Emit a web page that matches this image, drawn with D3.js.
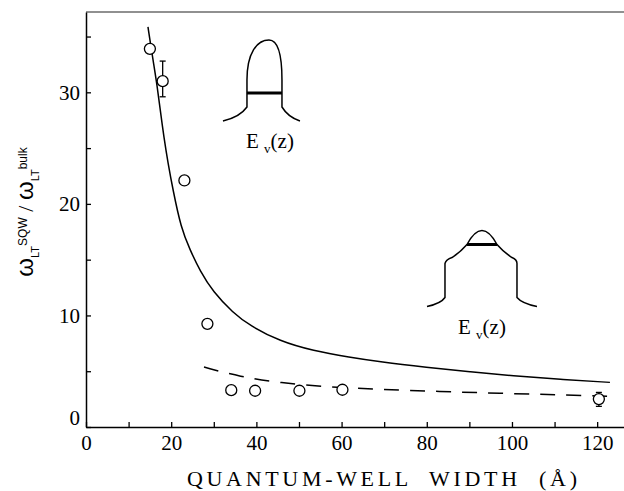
<!DOCTYPE html>
<html>
<head>
<meta charset="utf-8">
<script src="https://cdn.jsdelivr.net/npm/d3@7"></script>
<style>
  body { margin: 0; background: #fff; }
  svg { display: block; }
</style>
</head>
<body>
<div id="chart"></div>
<script>
// measured points (open circles)
const wellWidth = [15, 18, 23.1, 28.5, 34.1, 39.7, 50.1, 60.2, 120.4]
const ratio = [33.9, 31.0, 22.1, 9.25, 3.3, 3.25, 3.25, 3.34, 2.5]

// error bars on some of the points
const errIndex = [1, 8]
const errLow = [29.6, 1.85]
const errHigh = [32.8, 3.1]

// solid theory curve
const theoryWidth = [14.55, 15.26, 15.96, 16.67, 17.37, 18.31, 19.25, 20.42, 22.3, 24.41, 26.76, 29.81, 34.51, 38.5, 45.54, 53.29, 61.97, 69.01, 80.05, 90.14, 100.23, 111.27, 123.0]
const theoryRatio = [35.86, 34.07, 32.37, 30.66, 28.6, 25.9, 23.67, 21.25, 17.85, 15.88, 14.0, 12.12, 10.24, 9.07, 7.68, 6.83, 6.25, 5.84, 5.35, 4.95, 4.59, 4.27, 4.0]

// dashed curve
const dashWidth = [27.7, 36.15, 45.54, 57.28, 69.01, 83.1, 97.18, 111.27, 124.65]
const dashRatio = [5.37, 4.5, 3.96, 3.56, 3.38, 3.18, 3.02, 2.89, 2.74]

const xTicks = [0, 10, 20, 30, 40, 50, 60, 70, 80, 90, 100, 110, 120]
const xTickLabels = ["0", "", "20", "", "40", "", "60", "", "80", "", "100", "", "120"]
const yTicks = [0, 5, 10, 15, 20, 25, 30, 35]
const yTickLabels = ["0", "", "10", "", "20", "", "30", ""]

// inset sketches of E_v(z), in local pixels around an anchor placed in data space
const insetAnchorWidth = [41.78, 92.96]
const insetAnchorRatio = [27.43, 10.8]

const width = 624, height = 491
const margin = {top: 12, right: 0, bottom: 64, left: 86}
const serif = '"Liberation Serif"'

const x = d3.scaleLinear().domain([0, 126.3]).range([margin.left, width - margin.right])
const y = d3.scaleLinear().domain([0, 37.2]).range([height - margin.bottom, margin.top])

const svg = d3.select("#chart").append("svg")
  .attr("width", width)
  .attr("height", height)
  .attr("viewBox", [0, 0, width, height])

// frame top line
svg.append("line")
  .attr("x1", x.range()[0]).attr("x2", x.range()[1])
  .attr("y1", y.range()[1]).attr("y2", y.range()[1])
  .attr("stroke", "#222").attr("stroke-width", 1.2)

const xAxis = svg.append("g")
  .attr("transform", `translate(0,${y(0)})`)
  .call(d3.axisBottom(x).tickValues(xTicks)
    .tickFormat((d, i) => xTickLabels[i])
    .tickSizeInner(-5).tickSizeOuter(0).tickPadding(8))
xAxis.select(".domain").attr("stroke-width", 1.5)
xAxis.selectAll(".tick line").attr("stroke-width", 1.3)
xAxis.selectAll("text").style("font-family", serif).style("font-size", "21px").attr("fill", "#000")

const yAxis = svg.append("g")
  .attr("transform", `translate(${x(0)},0)`)
  .call(d3.axisLeft(y).tickValues(yTicks)
    .tickFormat((d, i) => yTickLabels[i])
    .tickSizeInner(-5).tickSizeOuter(0).tickPadding(6))
yAxis.select(".domain").attr("stroke-width", 1.5)
yAxis.selectAll(".tick line").attr("stroke-width", 1.3)
yAxis.selectAll("text").style("font-family", serif).style("font-size", "21px").attr("fill", "#000")
yAxis.selectAll(".tick").filter(d => d === 0).select("text").attr("dy", "-0.13em")

// curves
const theory = theoryWidth.map((w, i) => [w, theoryRatio[i]])
const dashed = dashWidth.map((w, i) => [w, dashRatio[i]])
const line = d3.line().x(d => x(d[0])).y(d => y(d[1])).curve(d3.curveBasis)

svg.append("path").datum(theory)
  .attr("d", line).attr("fill", "none")
  .attr("stroke", "#000").attr("stroke-width", 1.5)

svg.append("path").datum(dashed)
  .attr("d", line).attr("fill", "none")
  .attr("stroke", "#000").attr("stroke-width", 1.5)
  .attr("stroke-dasharray", "15,11")

// error bars
const errG = svg.append("g").attr("stroke", "#000").attr("stroke-width", 1.3)
errIndex.forEach((k, i) => {
  const cx = x(wellWidth[k])
  errG.append("line").attr("x1", cx).attr("x2", cx).attr("y1", y(errLow[i])).attr("y2", y(errHigh[i]))
  errG.append("line").attr("x1", cx - 3).attr("x2", cx + 3).attr("y1", y(errLow[i])).attr("y2", y(errLow[i]))
  errG.append("line").attr("x1", cx - 3).attr("x2", cx + 3).attr("y1", y(errHigh[i])).attr("y2", y(errHigh[i]))
})

// points
svg.append("g").selectAll("circle")
  .data(wellWidth)
  .join("circle")
    .attr("cx", d => x(d))
    .attr("cy", (d, i) => y(ratio[i]))
    .attr("r", 5.5)
    .attr("fill", "#fff")
    .attr("stroke", "#000")
    .attr("stroke-width", 1.3)

// inset sketches
const insetShapes = [
  "M -41 0 Q -24 -4 -17 -14 L -17 -41 C -17 -68 -7 -81 5 -81 C 15 -81 18 -64 18 -41 L 18 -14 Q 24 -4 36 0",
  "M -55 0 Q -41 -3 -37 -9 L -37 -43 Q -36 -47 -30 -49 Q -22 -54 -15 -62 Q 0 -90 15 -62 Q 22 -54 30 -49 Q 35 -47 35 -43 L 35 -9 Q 40 -3 55 0"
]
const insetBars = [[-17, 18, -28], [-15, 15, -62]]
const insetLabelDx = [6, 0]

insetAnchorWidth.forEach((w, i) => {
  const g = svg.append("g").attr("transform", `translate(${x(w)},${y(insetAnchorRatio[i])})`)
  g.append("path").attr("d", insetShapes[i])
    .attr("fill", "none").attr("stroke", "#000").attr("stroke-width", 1.5)
  g.append("line")
    .attr("x1", insetBars[i][0]).attr("x2", insetBars[i][1])
    .attr("y1", insetBars[i][2]).attr("y2", insetBars[i][2])
    .attr("stroke", "#000").attr("stroke-width", 3)
  const t = g.append("text")
    .attr("x", insetLabelDx[i]).attr("y", 27)
    .attr("text-anchor", "middle")
    .style("font-family", serif)
    .style("font-size", "21px")
  t.append("tspan").text("E ")
  t.append("tspan").style("font-size", "13px").attr("dy", 5).text("v")
  t.append("tspan").attr("dy", -5).text("(z)")
})

// axis titles
svg.append("text")
  .attr("x", 187).attr("y", 486)
  .attr("textLength", 390).attr("lengthAdjust", "spacing")
  .style("font-family", serif)
  .style("font-size", "22px")
  .style("white-space", "pre")
  .text("QUANTUM-WELL  WIDTH  (Å)")

const yl = svg.append("text")
  .attr("transform", "translate(33,212) rotate(-90)")
  .attr("text-anchor", "middle")
  .style("font-family", '"Liberation Sans"')
  .style("font-size", "24px")
yl.append("tspan").text("ω")
yl.append("tspan").style("font-size", "11px").attr("dy", 6).text("LT")
yl.append("tspan").style("font-size", "12px").attr("dy", -12).text("SQW")
yl.append("tspan").style("font-family", serif).style("font-size", "22px").attr("dy", 6).text(" / ")
yl.append("tspan").text("ω")
yl.append("tspan").style("font-size", "11px").attr("dy", 6).text("LT")
yl.append("tspan").style("font-size", "12px").attr("dy", -12).text("bulk")
</script>
</body>
</html>
